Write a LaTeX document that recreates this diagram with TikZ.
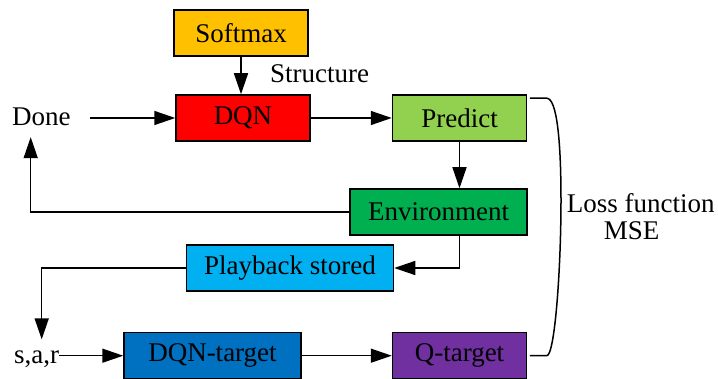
\documentclass[tikz,border=0pt]{standalone}
\usepackage{fontspec}
\setmainfont{Liberation Serif}
\usetikzlibrary{arrows.meta,calc}
\definecolor{cSoft}{HTML}{FFC000}
\definecolor{cDQN}{HTML}{FF0000}
\definecolor{cPred}{HTML}{92D050}
\definecolor{cEnv}{HTML}{00B050}
\definecolor{cPlay}{HTML}{00B0F0}
\definecolor{cDQNt}{HTML}{0070C0}
\definecolor{cQt}{HTML}{7030A0}
\begin{document}
\begin{tikzpicture}[x=1pt,y=-1pt,
  font=\fontsize{27}{32}\selectfont,
  box/.style={draw=black,line width=1.5pt,minimum height=46pt,inner sep=0pt,anchor=center},
  lbl/.style={inner sep=0pt},
  arr/.style={line width=1.5pt,-{Triangle[length=21pt,width=14pt]}},
  ln/.style={line width=1.5pt}]
\useasboundingbox (0,0) rectangle (718,379);
\node[box,fill=cSoft,minimum width=134pt] (soft) at (241,33) {Softmax};
\node[box,fill=cDQN,minimum width=134pt] (dqn) at (243,118) {DQN};
\node[box,fill=cPred,minimum width=134pt] (pred) at (459.5,118) {Predict};
\node[box,fill=cEnv,minimum width=177pt] (env) at (438.5,212) {Environment};
\node[box,fill=cPlay,minimum width=207pt] (play) at (290,268) {Playback stored};
\node[box,fill=cDQNt,minimum width=177pt] (dqnt) at (212.5,355.7) {DQN-target};
\node[box,fill=cQt,minimum width=134pt] (qt) at (459.5,355.7) {Q-target};
\node[lbl,anchor=base] (done) at (41.4,125.7) {Done};
\node[lbl,anchor=base west] (struct) at (270,82.3) {Structure};
\node[lbl,anchor=base] (sar) at (36.5,363.3) {s,a,r};
\node[lbl,anchor=base west] (loss) at (566.7,212.7) {Loss function};
\node[lbl,anchor=base] (mse) at (631.7,240) {MSE};
\draw[arr] (soft.south) -- (soft.south |- dqn.north);
\draw[arr,shorten <=19pt] (done.east |- dqn.west) -- (dqn.west);
\draw[arr] (dqn.east) -- (pred.west);
\draw[arr] (pred.south) -- (pred.south |- env.north);
\draw[arr,shorten >=11pt] (env.west) -| ([xshift=-10.7pt]done.south);
\draw[arr] (env.south -| pred.south) |- (play.east);
\draw[arr,shorten >=11pt] (play.west) -| ([xshift=5.2pt]sar.north);
\draw[arr] (sar.east |- dqnt.west) -- (dqnt.west);
\draw[arr] (dqnt.east) -- (qt.west);
\coordinate (bt) at ($(pred.north east)+(2.5,4)$);
\coordinate (bb) at ($(qt.east)+(2.5,0)$);
\draw[ln] (bt) -- ++(17,0) .. controls +(10,0) and +(0,-60) .. (561,200)
  .. controls +(0,70) and +(8,0) .. ($(bb)+(17,0)$) -- (bb);
\end{tikzpicture}
\end{document}
